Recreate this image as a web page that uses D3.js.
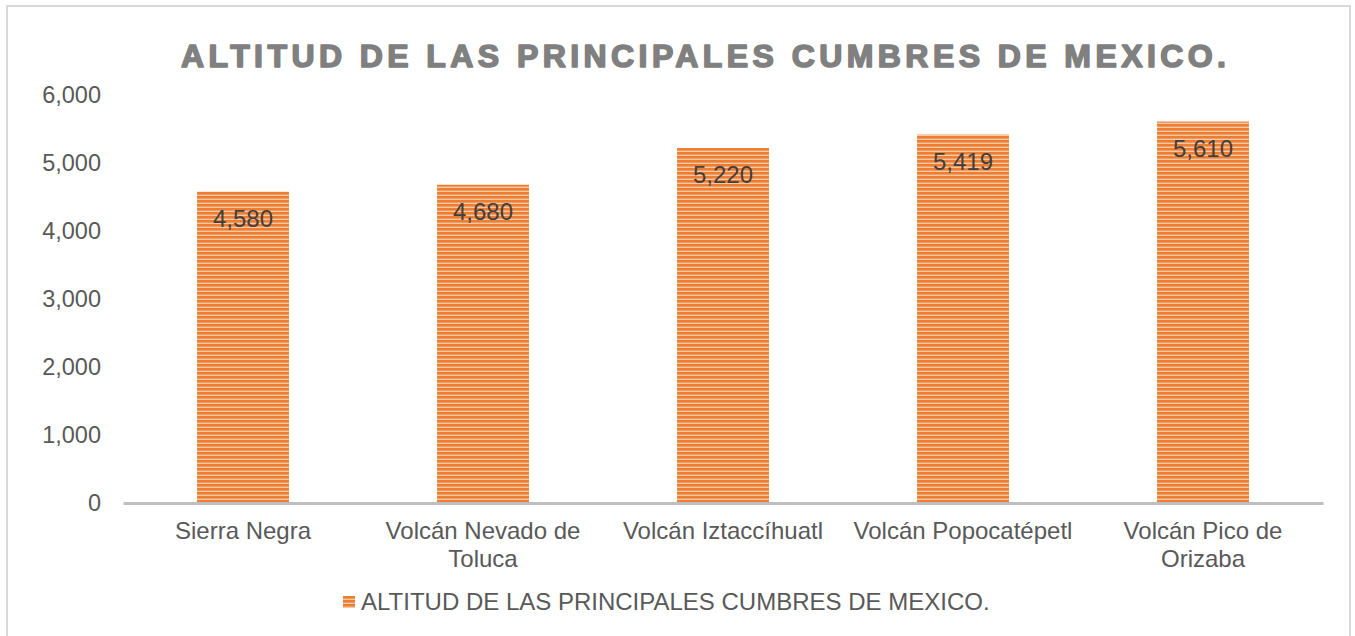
<!DOCTYPE html>
<html><head><meta charset="utf-8">
<script src="https://cdn.jsdelivr.net/npm/d3@7"></script>
<style>body{margin:0;background:#fff}svg{display:block}text{font-family:"Liberation Sans",Arial,sans-serif}</style>
</head><body>
<svg id="c" width="1355" height="636"></svg>
<script>
const categories = ["Sierra Negra", "Volcán Nevado de Toluca", "Volcán Iztaccíhuatl", "Volcán Popocatépetl", "Volcán Pico de Orizaba"];
const categoryLines = [["Sierra Negra"], ["Volcán Nevado de", "Toluca"], ["Volcán Iztaccíhuatl"], ["Volcán Popocatépetl"], ["Volcán Pico de", "Orizaba"]];
const values = [4580, 4680, 5220, 5419, 5610];
const yTicks = [0, 1000, 2000, 3000, 4000, 5000, 6000];
const title = "ALTITUD DE LAS PRINCIPALES CUMBRES DE MEXICO.";
const seriesName = "ALTITUD DE LAS PRINCIPALES CUMBRES DE MEXICO.";

const svg = d3.select("#c");
const defs = svg.append("defs");
const pat = defs.append("pattern").attr("id","stripes").attr("patternUnits","userSpaceOnUse")
  .attr("width",8).attr("height",4);
pat.append("rect").attr("width",8).attr("height",4).attr("fill","#f9c9a6");
pat.append("rect").attr("width",8).attr("height",2.6).attr("fill","#ed7d31");

svg.append("path").attr("d","M7,640 L7,6 L1350,6 L1350,640").attr("fill","none")
  .attr("stroke","#d9d9d9").attr("stroke-width",2);

const x = d3.scaleBand().domain(categories).range([123,1323]).paddingInner(0.617).paddingOuter(0.3085);
const y = d3.scaleLinear().domain([0,6000]).range([503,95]);

// title
svg.append("text").attr("x",181).attr("y",67).attr("textLength",1045).attr("lengthAdjust","spacing")
  .attr("font-size",32).attr("font-weight","bold").attr("fill","#808080")
  .attr("stroke","#808080").attr("stroke-width",1.6).attr("stroke-linejoin","round")
  .attr("font-family","'DejaVu Sans', 'Liberation Sans', sans-serif")
  .text(title);

const fmt = d3.format(",");
const yAxis = d3.axisLeft(y).tickValues(yTicks).tickFormat(fmt).tickSize(0).tickPadding(0);
const gy = svg.append("g").attr("transform","translate(101,0)").call(yAxis);
gy.select(".domain").remove();
gy.selectAll("text").attr("font-size",23.5).attr("fill","#595959").attr("font-family","Liberation Sans, Arial, sans-serif");

svg.selectAll("rect.bar").data(values).join("rect").attr("class","bar")
  .attr("x",(d,i)=>x(categories[i])).attr("width",x.bandwidth())
  .attr("y",d=>y(d)).attr("height",d=>y(0)-y(d)).attr("fill","url(#stripes)");

const xAxis = d3.axisBottom(x).tickSize(0).tickFormat("");
const gx = svg.append("g").attr("transform","translate(0,503)").call(xAxis);
gx.select(".domain").attr("stroke","#bfbfbf").attr("stroke-width",3);

categories.forEach((c,i)=>{
  const t = svg.append("text").attr("text-anchor","middle").attr("font-size",24).attr("fill","#595959");
  categoryLines[i].forEach((l,j)=>{
    t.append("tspan").attr("x",x(c)+x.bandwidth()/2).attr("y",539+j*28).text(l);
  });
});

svg.selectAll("text.dl").data(values).join("text").attr("class","dl")
  .attr("x",(d,i)=>x(categories[i])+x.bandwidth()/2).attr("y",d=>y(d)+35)
  .attr("text-anchor","middle").attr("font-size",24).attr("fill","#404040").text(d=>fmt(d));

svg.append("rect").attr("x",343).attr("y",596).attr("width",12).attr("height",12).attr("fill","url(#stripes)");
svg.append("text").attr("x",361).attr("y",610).attr("font-size",24).attr("fill","#595959").text(seriesName);
</script>
</body></html>
